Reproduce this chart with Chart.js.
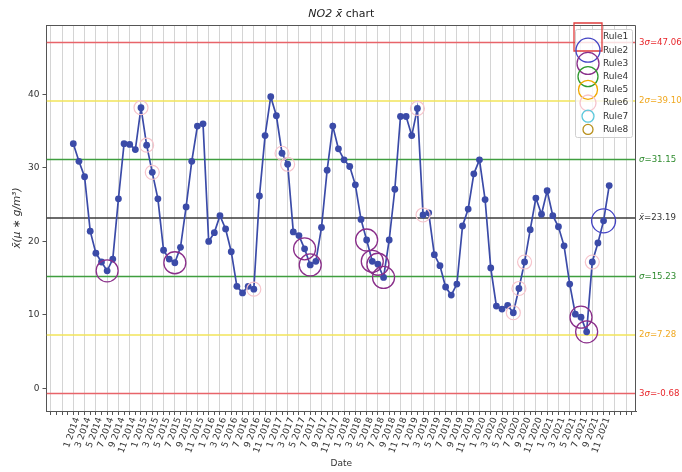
<!DOCTYPE html>
<html><head><meta charset="utf-8">
<script src="https://cdn.jsdelivr.net/npm/chart.js@4"></script>
<style>html,body{margin:0;padding:0;background:#fff}#wrap{width:682px;height:472px;position:relative}canvas{display:block}</style>
</head><body><div id="wrap"><canvas id="c" width="682" height="472" style="width:682px;height:472px"></canvas></div>
<script>
// ---------------- data ----------------
const tickLabels = [
 '1 2014','3 2014','5 2014','7 2014','9 2014','11 2014',
 '1 2015','3 2015','5 2015','7 2015','9 2015','11 2015',
 '1 2016','3 2016','5 2016','7 2016','9 2016','11 2016',
 '1 2017','3 2017','5 2017','7 2017','9 2017','11 2017',
 '1 2018','3 2018','5 2018','7 2018','9 2018','11 2018',
 '1 2019','3 2019','5 2019','7 2019','9 2019','11 2019',
 '1 2020','3 2020','5 2020','7 2020','9 2020','11 2020',
 '1 2021','3 2021','5 2021','7 2021','9 2021','11 2021'
];
// monthly NO2 means, Jan 2014 .. Dec 2021
const no2Values = [
 33.3,30.9,28.8,21.4,18.4,17.2,16.0,17.6,25.8,33.3,33.2,32.5,
 38.2,33.1,29.4,25.8,18.8,17.6,17.1,19.2,24.7,30.9,35.7,36.0,
 20.0,21.2,23.5,21.7,18.6,13.9,13.0,13.9,13.5,26.2,34.4,39.7,
 37.1,32.0,30.5,21.3,20.8,19.0,16.8,17.3,21.9,29.7,35.7,32.6,
 31.1,30.2,27.7,23.0,20.2,17.3,16.9,15.1,20.2,27.1,37.0,37.0,
 34.4,38.1,23.6,23.9,18.2,16.7,13.8,12.7,14.2,22.1,24.4,29.2,
 31.1,25.7,16.4,11.2,10.8,11.3,10.3,13.6,17.2,21.6,25.9,23.7,
 26.9,23.5,22.0,19.4,14.2,10.1,9.7,7.7,17.2,19.8,22.8,27.6
];
const limitNames  = ['3σ','2σ','σ','x̄','σ','2σ','3σ'];
const limitValues = [47.06, 39.10, 31.15, 23.19, 15.23, 7.28, -0.68];
const rule2Points = [94];
const rule3Points = [6,18,41,42,52,53,54,55,90,91];
const rule6Points = [12,13,14,32,37,38,61,62,78,79,80,92];
const ruleNames = ['Rule1','Rule2','Rule3','Rule4','Rule5','Rule6','Rule7','Rule8'];
const yTicks = [0,10,20,30,40];

// ---------------- styles ----------------
const FONT = "'DejaVu Sans', sans-serif";
const limitLineColors = ['#e8646a','#f2e45a','#3f9e3f','#3a3a3a','#3f9e3f','#f2e45a','#e8646a'];
const limitTextColors = ['#e8262b','#f0a820','#2e8b2e','#333333','#2e8b2e','#f0a820','#e8262b'];
const ruleColors = ['#e03c3c','#4444c4','#8a2f8a','#2e9a2e','#f0a800','#f6c4cc','#5cc8dc','#b8901c'];
const ruleLegendRadius = [14, 12, 11, 10, 9.5, 8, 6, 5];
const X_MIN = -4.75, X_MAX = 99.75;

const points = no2Values.map((v,i)=>({x:i,y:v}));
const pick = idx => idx.map(i=>({x:i,y:no2Values[i]}));

const datasets = [];
datasets.push({type:'line',data:pick(rule2Points),showLine:false,pointRadius:12,pointHoverRadius:12,
  pointBackgroundColor:'rgba(0,0,0,0)',pointBorderColor:ruleColors[1],pointBorderWidth:1.3,order:0});
datasets.push({type:'line',data:pick(rule3Points),showLine:false,pointRadius:11,pointHoverRadius:11,
  pointBackgroundColor:'rgba(0,0,0,0)',pointBorderColor:ruleColors[2],pointBorderWidth:1.3,order:0});
datasets.push({type:'line',data:pick(rule6Points),showLine:false,pointRadius:7,pointHoverRadius:7,
  pointBackgroundColor:'rgba(0,0,0,0)',pointBorderColor:ruleColors[5],pointBorderWidth:1.2,order:0});
datasets.push({type:'line',data:points,borderColor:'#3b4ba8',borderWidth:1.7,pointRadius:3.4,
  pointBackgroundColor:'#3b4ba8',pointBorderColor:'#3b4ba8',pointBorderWidth:0,tension:0,order:1});
limitValues.forEach((v,k)=>{
  datasets.push({type:'line',data:[{x:X_MIN,y:v},{x:X_MAX,y:v}],borderColor:limitLineColors[k],
    borderWidth:1.5,pointRadius:0,order:2});
});

function drawParts(ctx, parts, x, y, size, color, align){
  let w = 0;
  const fonts = parts.map(p=>(p[1]?'italic ':'')+size+'px '+FONT);
  parts.forEach((p,i)=>{ctx.font=fonts[i]; w+=ctx.measureText(p[0]).width;});
  let cx = align==='center' ? x - w/2 : x;
  ctx.fillStyle = color; ctx.textBaseline='middle'; ctx.textAlign='left';
  parts.forEach((p,i)=>{ctx.font=fonts[i]; ctx.fillText(p[0],cx,y); cx+=ctx.measureText(p[0]).width;});
}

const overlay = {
  id:'overlay',
  afterDraw(chart){
    const ctx = chart.ctx, a = chart.chartArea, ys = chart.scales.y;
    ctx.save();
    ctx.strokeStyle='#555'; ctx.lineWidth=1;
    ctx.beginPath(); ctx.moveTo(a.left,a.top+0.5); ctx.lineTo(a.right-0.5,a.top+0.5); ctx.lineTo(a.right-0.5,a.bottom); ctx.stroke();
    limitValues.forEach((v,k)=>{
      const y = ys.getPixelForValue(v);
      const name = limitNames[k];
      const parts = [];
      if (name==='x̄') parts.push(['x̄',true]);
      else { const m = name.replace('σ',''); if(m) parts.push([m,false]); parts.push(['σ',true]); }
      parts.push(['='+v.toFixed(2),false]);
      drawParts(ctx, parts, a.right+3, y, 8.6, limitTextColors[k], 'left');
    });
    drawParts(ctx, [['NO2 x̄',true],[' chart',false]], (a.left+a.right)/2, 14, 11, '#222', 'center');
    const lx = 575, ly = 29, lw = 57, lh = 108;
    ctx.fillStyle='rgba(255,255,255,0.8)'; ctx.strokeStyle='#d0d0d0'; ctx.lineWidth=1;
    ctx.beginPath(); ctx.roundRect(lx+0.5,ly+0.5,lw,lh,2); ctx.fill(); ctx.stroke();
    ruleNames.forEach((n,k)=>{
      const cy = 37 + k*13.2, cx = 588;
      ctx.strokeStyle = ruleColors[k]; ctx.lineWidth = 1.3;
      const r = ruleLegendRadius[k];
      ctx.beginPath();
      if (k===0) ctx.rect(cx-r, cy-r, 2*r, 2*r); else ctx.arc(cx,cy,r,0,Math.PI*2);
      ctx.stroke();
      ctx.font = '9px '+FONT; ctx.fillStyle='#333'; ctx.textAlign='left'; ctx.textBaseline='middle';
      ctx.fillText(n, 603, cy);
    });
    ctx.restore();
  }
};

new Chart(document.getElementById('c'), {
  data:{datasets},
  options:{
    responsive:false, animation:false, devicePixelRatio:1,
    layout:{padding:{top:25,right:46,left:0,bottom:0}},
    plugins:{legend:{display:false},tooltip:{enabled:false}},
    scales:{
      x:{type:'linear',min:X_MIN,max:X_MAX,
        afterBuildTicks(s){ const t=[]; for(let i=-4;i<=99;i++) t.push({value:i}); s.ticks=t; },
        afterFit(s){ s.height = 61; },
        ticks:{autoSkip:false,minRotation:70,maxRotation:70,labelOffset:4,padding:1,
          font:{family:FONT,size:9},color:'#333',
          callback(v){ return (v>=0 && v%2===0 && v/2<tickLabels.length) ? tickLabels[v/2] : ''; }},
        grid:{color:c=> (c.tick && c.tick.value%2===0) ? '#d4d4d4' : 'rgba(0,0,0,0)',
          lineWidth:1,tickColor:'#555',tickLength:4,drawOnChartArea:true},
        border:{display:true,color:'#555',width:1},
        title:{display:true,text:'Date',font:{family:FONT,size:9},color:'#333',padding:{top:0,bottom:3}}
      },
      y:{type:'linear',min:-3.07,max:49.45,
        afterBuildTicks(s){ s.ticks = yTicks.map(v=>({value:v})); },
        afterFit(s){ s.width = 46.5; },
        ticks:{font:{family:FONT,size:9},color:'#333',padding:3},
        grid:{drawOnChartArea:false,tickColor:'#555',tickLength:4},
        border:{display:true,color:'#555',width:1},
        title:{display:true,text:'x̄(μ ∗ g/m³)',font:{family:FONT,size:10.5,style:'italic'},color:'#333',padding:{top:11,bottom:0}}
      }
    }
  },
  plugins:[overlay]
});
</script>
</body></html>
